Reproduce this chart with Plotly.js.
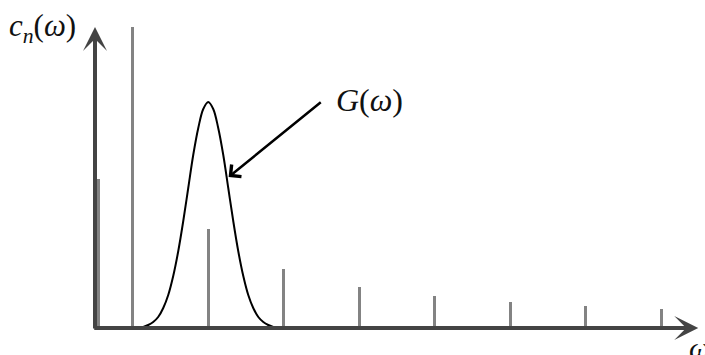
<!DOCTYPE html>
<html>
<head>
<meta charset="utf-8">
<script src="https://cdn.plot.ly/plotly-3.0.1.min.js"></script>
<style>html,body{margin:0;padding:0;background:#fff;}#chart{width:705px;height:355px;}</style>
</head>
<body>
<div id="chart"></div>
<script>
// Line spectrum c_n(ω): positions and amplitudes
var stemOmega = [0.04, 0.5, 1.5, 2.5, 3.5, 4.5, 5.5, 6.5, 7.5];
var stemAmp   = [1.49, 3.01, 0.99, 0.59, 0.41, 0.32, 0.26, 0.22, 0.19];

// Envelope G(ω), points
var gaussOmega = [0.573, 0.639, 0.705, 0.771, 0.837, 0.904, 0.970, 1.036, 1.103, 1.169, 1.235, 1.301, 1.368, 1.434,
                  1.500,
                  1.566, 1.632, 1.699, 1.765, 1.831, 1.897, 1.964, 2.030, 2.096, 2.163, 2.229, 2.295, 2.361, 2.427];
var gaussAmp   = [0.00, 0.01, 0.03, 0.06, 0.11, 0.20, 0.33, 0.52, 0.77, 1.07, 1.40, 1.73, 2.00, 2.19,
                  2.26,
                  2.19, 2.00, 1.73, 1.40, 1.07, 0.77, 0.52, 0.33, 0.20, 0.11, 0.06, 0.03, 0.01, 0.00];

var axisColor = '#444444';
var serif = 'Liberation Serif, DejaVu Serif, serif';

var traces = [
  {
    type: 'bar', x: stemOmega, y: stemAmp, width: 0.042,
    marker: {color: '#838383', line: {width: 0}},
    hoverinfo: 'skip', showlegend: false
  },
  {
    type: 'scatter', mode: 'lines', x: gaussOmega, y: gaussAmp,
    line: {color: '#000000', width: 2, shape: 'spline', smoothing: 1},
    hoverinfo: 'skip', showlegend: false, cliponaxis: false
  }
];

var hidden = {showgrid: false, zeroline: false, showline: false, showticklabels: false, ticks: '', fixedrange: true};

var plotW = 705 - 95 - 6, plotH = 355 - 23 - 27;

var layout = {
  width: 705, height: 355,
  margin: {l: 95, r: 6, t: 23, b: 27},
  paper_bgcolor: '#ffffff', plot_bgcolor: '#ffffff',
  bargap: 0,
  xaxis: Object.assign({range: [0, 8]}, hidden),
  yaxis: Object.assign({range: [0, 3.05]}, hidden),
  annotations: [
    // x axis arrow
    {x: 7.99, y: 0, ax: -0.03, ay: 0, xref: 'x', yref: 'y', axref: 'x', ayref: 'y',
     text: '', showarrow: true, arrowhead: 3, arrowsize: 1.0, arrowwidth: 4, arrowcolor: axisColor, standoff: 0},
    // y axis arrow
    {x: 0, y: 3.01, ax: 0, ay: -0.02, xref: 'x', yref: 'y', axref: 'x', ayref: 'y',
     text: '', showarrow: true, arrowhead: 3, arrowsize: 1.0, arrowwidth: 4, arrowcolor: axisColor, standoff: 0},
    // pointer to G(ω)
    {x: 1.77, y: 1.51, ax: 3.01, ay: 2.27, xref: 'x', yref: 'y', axref: 'x', ayref: 'y',
     text: '', showarrow: true, arrowhead: 4, arrowsize: 1.2, arrowwidth: 2.5, arrowcolor: '#000000', standoff: 0},
    {x: 3.17, y: 2.28, xref: 'x', yref: 'y', xanchor: 'left', yanchor: 'middle',
     text: '<i>G</i>(<i>ω</i>)', showarrow: false, font: {family: serif, size: 32, color: '#111111'}},
    // y axis label
    {x: (7 - 95) / plotW, y: (355 - 27 - 28) / plotH, xref: 'paper', yref: 'paper', xanchor: 'left', yanchor: 'middle',
     text: '<i>c</i><sub><i>n</i></sub>(<i>ω</i>)', showarrow: false,
     font: {family: serif, size: 31, color: '#111111'}},
    // x axis label (partly outside the picture, as in the reference)
    {x: (687 - 95) / plotW, y: (355 - 27 - 347) / plotH, xref: 'paper', yref: 'paper',
     xanchor: 'left', yanchor: 'middle', text: '<i>ω</i>', showarrow: false,
     font: {family: serif, size: 30, color: '#111111'}}
  ]
};

Plotly.newPlot('chart', traces, layout, {displayModeBar: false, staticPlot: true});
</script>
</body>
</html>
